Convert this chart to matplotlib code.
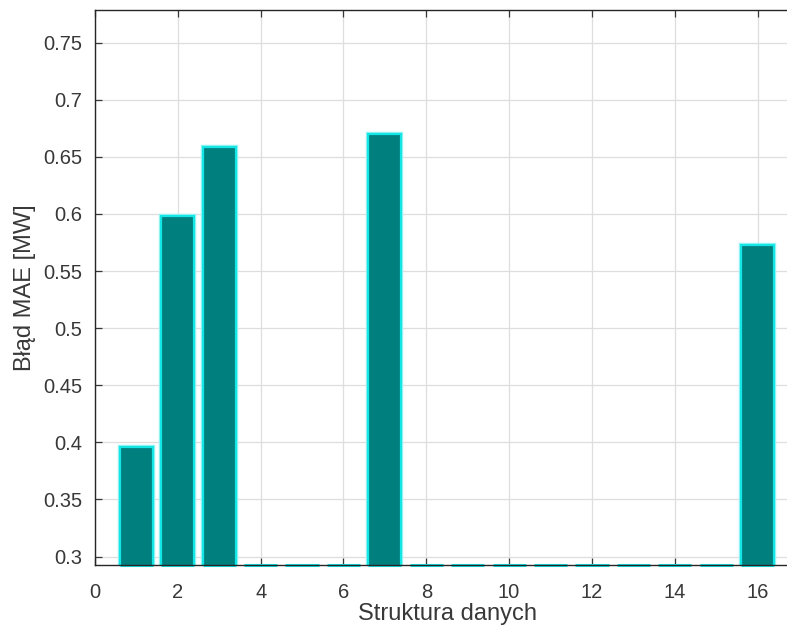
import matplotlib
matplotlib.use("Agg")
import matplotlib.pyplot as plt
import numpy as np

# Data structure index and MAE error per structure [MW]
structures = list(range(1, 17))
mae = [0.396, 0.598, 0.659, 0.27, 0.27, 0.27, 0.670, 0.27,
       0.27, 0.27, 0.27, 0.27, 0.27, 0.27, 0.27, 0.573]

xticks = [0, 2, 4, 6, 8, 10, 12, 14, 16]
yticks = [0.3, 0.35, 0.4, 0.45, 0.5, 0.55, 0.6, 0.65, 0.7, 0.75]
ytick_labels = ["0.3", "0.35", "0.4", "0.45", "0.5", "0.55", "0.6", "0.65", "0.7", "0.75"]

text_color = "#383838"
face = "#007f7f"
edge = "#14e6e6"

plt.rcParams["font.family"] = ["Liberation Sans", "DejaVu Sans"]

fig = plt.figure(figsize=(7.87, 6.39), dpi=100)
ax = fig.add_axes([95 / 787, 74 / 639, 704 / 787, 555 / 639])

ylo, yhi = 0.2926, 0.7786
ax.set_xlim(0, 17)
ax.set_ylim(ylo, yhi)

# soft glow behind the edge, then the bars themselves
ax.bar(structures, mae, width=0.8, color="none", edgecolor="#9ff5f5",
       linewidth=3.2, zorder=2)
ax.bar(structures, mae, width=0.8, color=face, edgecolor=edge,
       linewidth=1.6, zorder=3)

# bar outlines where they meet the lower axis limit
for x in structures:
    ax.hlines(ylo, x - 0.4, x + 0.4, colors=edge, linewidth=2.2,
              clip_on=False, zorder=1.5)

ax.set_xticks(xticks)
ax.set_yticks(yticks)
ax.set_yticklabels(ytick_labels)
ax.grid(True, color="#dedede", linewidth=0.9, zorder=0)
ax.set_axisbelow(True)

ax.tick_params(direction="in", length=5, width=0.9, colors=text_color,
               labelsize=14.5, top=True, right=False)
ax.tick_params(axis="x", pad=13)
ax.tick_params(axis="y", pad=9)

for side in ["left", "bottom", "top"]:
    ax.spines[side].set_color("#262626")
    ax.spines[side].set_linewidth(1.0)
    ax.spines[side].set_zorder(5)
ax.spines["right"].set_visible(False)

ax.set_xlabel("Struktura danych", fontsize=17, color=text_color, labelpad=1)
ax.set_ylabel("Błąd MAE [MW]", fontsize=17, color=text_color, labelpad=5)

fig.savefig("out.png", dpi=100)
